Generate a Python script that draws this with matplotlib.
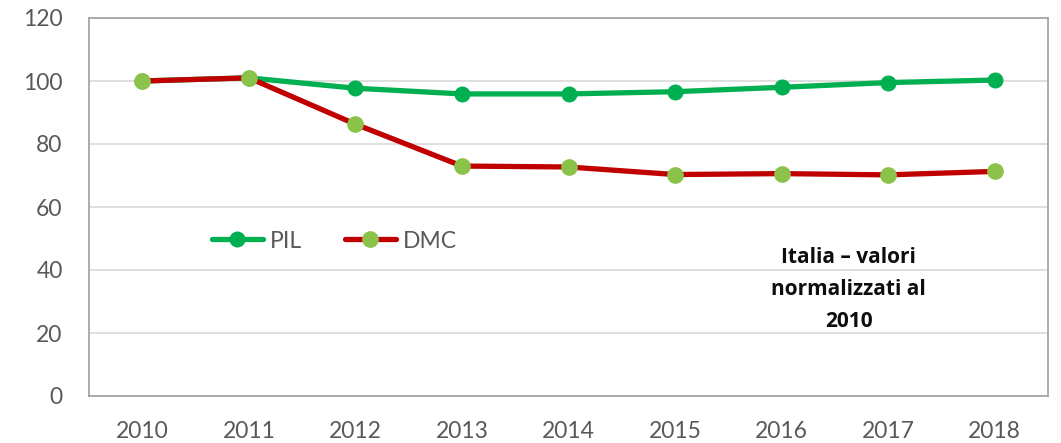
import matplotlib
matplotlib.use("Agg")
import matplotlib.pyplot as plt

years = ["2010", "2011", "2012", "2013", "2014", "2015", "2016", "2017", "2018"]
pil = [100.0, 101.0, 97.7, 95.9, 95.9, 96.6, 98.0, 99.5, 100.3]
dmc = [100.0, 101.0, 86.3, 73.0, 72.7, 70.3, 70.6, 70.2, 71.3]
yticks = [0, 20, 40, 60, 80, 100, 120]

plt.rcParams['font.family'] = ['Lato', 'DejaVu Sans']

fig = plt.figure(figsize=(10.61, 4.43), dpi=100)
ax = fig.add_axes([89/1061, 1-396/443, 959/1061, 378/443])

x = list(range(len(years)))
ax.plot(x, pil, color="#00B050", lw=3.8, marker="o", ms=10.5,
        mfc="#00B050", mec="#00B050", label="PIL", zorder=3, solid_capstyle="round")
ax.plot(x, dmc, color="#C00000", lw=3.8, marker="o", ms=11,
        mfc="#8BC34A", mec="#8BC34A", label="DMC", zorder=4, solid_capstyle="round")

ax.set_xlim(-0.5, len(years) - 0.5)
ax.set_ylim(0, 120)
ax.set_yticks(yticks)
ax.set_xticks(x)
ax.set_xticklabels(years)
ax.grid(axis="y", color="#D9D9D9", lw=1.2)
ax.set_axisbelow(True)
for s in ax.spines.values():
    s.set_color("#A6A6A6")
    s.set_linewidth(1.3)
ax.tick_params(axis="both", length=0, labelsize=16.5, labelcolor="#595959")
ax.tick_params(axis="y", pad=19)
ax.tick_params(axis="x", pad=18)

leg = ax.legend(loc="center left", bbox_to_anchor=(0.119, 0.41), ncol=2,
                frameon=False, fontsize=16.5, handlelength=2.2, columnspacing=1.9,
                handletextpad=0.3, labelcolor="#595959", borderaxespad=0.0)

ax.text(0.792, 0.282, "Italia – valori\nnormalizzati al\n2010", transform=ax.transAxes,
        ha="center", va="center", fontsize=15, fontweight="bold", color="#0D0D0D",
        family=["Open Sans", "DejaVu Sans"], linespacing=1.7)

fig.savefig("out.png", dpi=100)
